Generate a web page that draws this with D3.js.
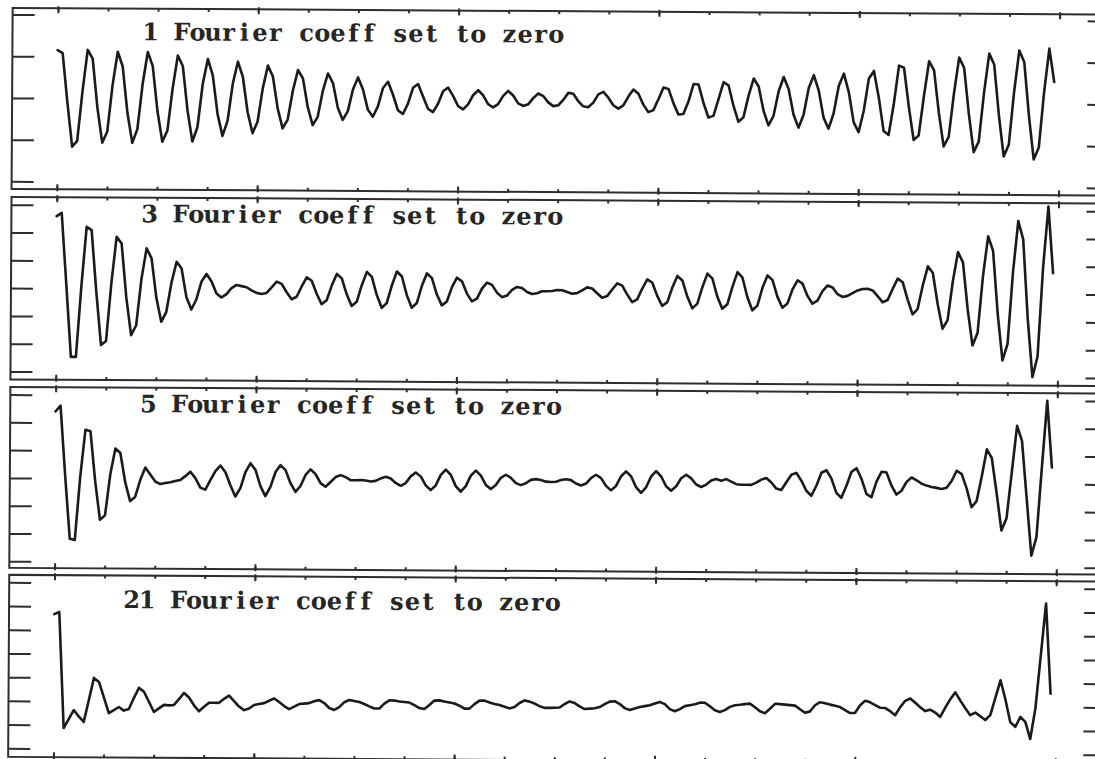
<!DOCTYPE html>
<html>
<head>
<meta charset="utf-8">
<script src="https://cdn.jsdelivr.net/npm/d3@7"></script>
<style>
  html, body { margin: 0; padding: 0; background: #ffffff; }
  svg { display: block; }
</style>
</head>
<body>
<svg id="chart" width="1095" height="759"></svg>
<script>
// Panel titles
const labels = [
  "1 Fourier coeff set to zero",
  "3 Fourier coeff set to zero",
  "5 Fourier coeff set to zero",
  "21 Fourier coeff set to zero"
];

// Unlabelled y tick values of each panel
const yTicks1 = [-2, -1, 0, 1, 2];
const yTicks2 = [-3, -2, -1, 0, 1, 2, 3];
const yTicks3 = [-3, -2, -1, 0, 1, 2, 3];
const yTicks4 = [-2, -1, 0, 1, 2, 3, 4, 5];

// Sample-index ticks along the x axis
const xMinorTicks = d3.range(0, 201, 10);
const xMajorTicks = d3.range(0, 201, 40);

// Residual signal, 200 samples per panel
const series1 = [
  1.15, 1.08, -0.10, -1.16, -1.02, 0.16, 1.16, 0.95, -0.22, -1.06,
  -0.79, 0.32, 1.12, 0.77, -0.34, -1.06, -0.73, 0.35, 1.12, 0.78,
  -0.30, -1.03, -0.76, 0.25, 1.04, 0.79, -0.28, -1.02, -0.67, 0.36,
  0.96, 0.57, -0.36, -0.88, -0.52, 0.37, 0.90, 0.54, -0.31, -0.81,
  -0.53, 0.27, 0.81, 0.55, -0.22, -0.69, -0.48, 0.21, 0.71, 0.51,
  -0.18, -0.61, -0.41, 0.22, 0.63, 0.40, -0.19, -0.48, -0.27, 0.25,
  0.54, 0.25, -0.23, -0.40, -0.15, 0.29, 0.44, 0.13, -0.24, -0.33,
  -0.08, 0.30, 0.39, 0.09, -0.20, -0.28, -0.08, 0.22, 0.31, 0.11,
  -0.13, -0.21, -0.09, 0.13, 0.25, 0.13, -0.08, -0.16, -0.08, 0.12,
  0.24, 0.13, -0.06, -0.12, -0.08, 0.07, 0.18, 0.12, -0.03, -0.12,
  -0.10, 0.03, 0.20, 0.18, 0.00, -0.12, -0.14, -0.03, 0.17, 0.23,
  0.09, -0.09, -0.17, -0.09, 0.12, 0.29, 0.19, -0.07, -0.25, -0.20,
  0.06, 0.34, 0.31, -0.03, -0.30, -0.29, 0.01, 0.43, 0.42, -0.02,
  -0.37, -0.33, 0.07, 0.48, 0.40, -0.09, -0.47, -0.36, 0.16, 0.57,
  0.38, -0.20, -0.55, -0.32, 0.27, 0.61, 0.32, -0.29, -0.60, -0.29,
  0.35, 0.66, 0.29, -0.36, -0.62, -0.25, 0.41, 0.70, 0.26, -0.46,
  -0.70, -0.19, 0.59, 0.77, 0.13, -0.67, -0.76, -0.02, 0.90, 0.85,
  -0.08, -0.88, -0.77, 0.17, 1.01, 0.79, -0.22, -1.03, -0.80, 0.24,
  1.10, 0.86, -0.25, -1.16, -0.91, 0.26, 1.20, 0.94, -0.28, -1.26,
  -0.98, 0.28, 1.28, 1.00, -0.29, -1.33, -1.04, 0.29, 1.33, 0.53
];

const series2 = [
  2.60, 2.72, 0.15, -2.46, -2.46, 0.05, 2.22, 2.10, -0.12, -2.03,
  -1.88, 0.20, 1.87, 1.63, -0.32, -1.67, -1.31, 0.36, 1.46, 1.10,
  -0.32, -1.18, -0.82, 0.23, 0.98, 0.74, -0.29, -0.73, -0.36, 0.28,
  0.55, 0.28, -0.15, -0.29, -0.17, 0.05, 0.16, 0.12, 0.08, -0.03,
  -0.12, -0.16, -0.12, 0.08, 0.29, 0.21, -0.09, -0.34, -0.25, 0.12,
  0.45, 0.33, -0.14, -0.51, -0.37, 0.16, 0.58, 0.42, -0.15, -0.57,
  -0.42, 0.18, 0.66, 0.48, -0.17, -0.63, -0.46, 0.18, 0.68, 0.50,
  -0.17, -0.62, -0.45, 0.17, 0.62, 0.45, -0.14, -0.53, -0.39, 0.13,
  0.47, 0.34, -0.10, -0.38, -0.28, 0.08, 0.30, 0.22, -0.06, -0.22,
  -0.16, 0.04, 0.15, 0.11, -0.03, -0.10, -0.07, 0.00, 0.00, 0.01,
  0.05, 0.04, -0.02, -0.08, -0.06, 0.04, 0.15, 0.11, -0.06, -0.22,
  -0.16, 0.08, 0.30, 0.22, -0.10, -0.37, -0.27, 0.12, 0.45, 0.33,
  -0.14, -0.50, -0.37, 0.16, 0.58, 0.42, -0.16, -0.58, -0.42, 0.18,
  0.67, 0.49, -0.16, -0.59, -0.43, 0.20, 0.73, 0.53, -0.17, -0.64,
  -0.47, 0.17, 0.62, 0.45, -0.15, -0.54, -0.39, 0.12, 0.45, 0.33,
  -0.11, -0.39, -0.28, 0.07, 0.27, 0.20, -0.04, -0.14, -0.10, 0.00,
  0.10, 0.15, 0.16, 0.10, -0.10, -0.32, -0.24, 0.16, 0.53, 0.40,
  -0.22, -0.75, -0.56, 0.29, 0.98, 0.74, -0.38, -1.26, -0.95, 0.45,
  1.50, 1.13, -0.56, -1.86, -1.40, 0.62, 2.07, 1.55, -0.72, -2.39,
  -1.79, 0.79, 2.63, 1.97, -0.89, -2.98, -2.24, 0.95, 3.16, 0.76
];

const series3 = [
  2.40, 2.61, 0.10, -2.18, -2.22, 0.03, 1.75, 1.70, -0.10, -1.49,
  -1.33, 0.13, 1.08, 0.92, -0.13, -0.81, -0.66, -0.05, 0.40, 0.15,
  -0.10, -0.19, -0.15, -0.12, -0.08, -0.04, 0.10, 0.26, 0.03, -0.31,
  -0.38, -0.04, 0.29, 0.49, 0.25, -0.22, -0.62, -0.32, 0.26, 0.58,
  0.34, -0.24, -0.60, -0.27, 0.27, 0.52, 0.34, -0.13, -0.44, -0.23,
  0.17, 0.37, 0.20, -0.12, -0.25, -0.08, 0.10, 0.17, 0.10, -0.01,
  -0.01, 0.00, -0.02, -0.05, -0.03, 0.06, 0.12, 0.06, -0.10, -0.20,
  -0.10, 0.14, 0.28, 0.14, -0.18, -0.35, -0.18, 0.20, 0.39, 0.20,
  -0.20, -0.40, -0.20, 0.18, 0.36, 0.18, -0.15, -0.30, -0.15, 0.11,
  0.22, 0.11, -0.08, -0.15, -0.08, 0.04, 0.07, 0.04, -0.02, -0.03,
  -0.02, 0.04, 0.07, 0.04, -0.08, -0.15, -0.08, 0.12, 0.24, 0.12,
  -0.16, -0.32, -0.16, 0.19, 0.37, 0.19, -0.20, -0.40, -0.20, 0.19,
  0.38, 0.19, -0.16, -0.32, -0.16, 0.13, 0.26, 0.13, -0.09, -0.18,
  -0.09, 0.06, 0.11, 0.05, 0.11, 0.02, -0.07, -0.09, -0.09, -0.09,
  -0.01, 0.10, 0.16, 0.00, -0.22, -0.27, 0.01, 0.28, 0.35, 0.07,
  -0.29, -0.47, -0.11, 0.36, 0.45, 0.15, -0.36, -0.54, -0.10, 0.40,
  0.53, 0.15, -0.39, -0.51, 0.05, 0.41, 0.38, -0.09, -0.41, -0.27,
  0.05, 0.21, 0.11, -0.01, -0.08, -0.13, -0.16, -0.20, -0.15, 0.09,
  0.46, 0.34, -0.17, -0.85, -0.63, 0.25, 1.24, 0.92, -0.34, -1.68,
  -1.24, 0.42, 2.09, 1.55, -0.52, -2.58, -1.91, 0.60, 3.00, 0.60
];

const series4 = [
  3.67, 3.76, -1.13, -0.75, -0.37, -0.64, -0.87, 0.06, 0.99, 0.82,
  0.17, -0.49, -0.36, -0.23, -0.38, -0.31, 0.16, 0.58, 0.42, 0.00,
  -0.43, -0.28, -0.13, -0.15, -0.13, 0.12, 0.38, 0.19, -0.14, -0.39,
  -0.20, -0.03, -0.03, -0.03, 0.14, 0.28, 0.05, -0.18, -0.33, -0.26,
  -0.11, -0.07, -0.03, 0.07, 0.17, 0.02, -0.15, -0.28, -0.17, -0.06,
  -0.04, -0.02, 0.06, 0.11, -0.01, -0.22, -0.30, -0.18, 0.03, 0.12,
  0.08, 0.04, -0.04, -0.14, -0.23, -0.23, -0.02, 0.12, 0.11, 0.07,
  0.05, 0.03, -0.08, -0.20, -0.24, -0.07, 0.12, 0.13, 0.08, 0.04,
  0.00, -0.09, -0.21, -0.21, -0.02, 0.13, 0.13, 0.05, -0.01, -0.05,
  -0.12, -0.19, -0.13, 0.04, 0.15, 0.10, 0.02, -0.09, -0.16, -0.16,
  -0.15, -0.14, 0.01, 0.12, 0.05, -0.09, -0.20, -0.18, -0.16, -0.11,
  0.01, 0.12, 0.14, 0.02, -0.15, -0.23, -0.16, -0.10, -0.06, -0.02,
  0.05, 0.12, 0.03, -0.18, -0.27, -0.18, -0.05, -0.01, 0.03, 0.10,
  0.10, -0.05, -0.22, -0.29, -0.21, -0.07, 0.00, 0.02, 0.05, 0.07,
  -0.08, -0.25, -0.33, -0.14, 0.07, 0.06, 0.04, 0.02, 0.00, -0.15,
  -0.30, -0.24, 0.02, 0.15, 0.11, 0.05, 0.00, -0.05, -0.18, -0.30,
  -0.29, 0.03, 0.22, 0.16, 0.04, -0.07, -0.08, -0.21, -0.38, -0.04,
  0.23, 0.33, 0.15, -0.04, -0.20, -0.14, -0.26, -0.44, -0.05, 0.31,
  0.60, 0.25, -0.07, -0.36, -0.25, -0.40, -0.56, -0.35, 0.39, 1.12,
  0.31, -0.65, -0.84, -0.42, -0.63, -1.35, -0.05, 2.16, 4.37, 0.57
];

// ---- layout ----
const W = 1095, H = 759;
const layout = [
  { top: 8,   bottom: 189,   domain: [-2.18, 2.156],  labelY: 39.5 },
  { top: 197, bottom: 379.5, domain: [-3.284, 3.28],  labelY: 221.5 },
  { top: 387, bottom: 568,   domain: [-3.24, 3.276],  labelY: 411.5 },
  { top: 575, bottom: 757,   domain: [-2.362, 5.314], labelY: 607.5 }
];
const labelEnd = 562;      // right end of every title
const labelPitch = 15.6;   // fixed character cell width of the titles

const panels = [
  { label: labels[0], values: series1, ticks: yTicks1 },
  { label: labels[1], values: series2, ticks: yTicks2 },
  { label: labels[2], values: series3, ticks: yTicks3 },
  { label: labels[3], values: series4, ticks: yTicks4 }
].map((p, i) => Object.assign(p, layout[i]));

const ink = "#1b1b1b";
const frameInk = "#2e2e2e";

const svg = d3.select("#chart");
svg.append("rect").attr("width", W).attr("height", H).attr("fill", "#ffffff");

// the whole sheet sits slightly tilted
const sheet = svg.append("g").attr("transform", "rotate(0.344, 30, 380)");

const x = d3.scaleLinear().domain([0, 199]).range([55.7, 1052.4]);
const xLeft = x(-9.04), xRight = x(210);

panels.forEach(p => {
  const y = d3.scaleLinear().domain(p.domain).range([p.bottom, p.top]);
  const g = sheet.append("g");

  // frame
  g.append("rect")
    .attr("x", xLeft).attr("y", p.top)
    .attr("width", xRight - xLeft).attr("height", p.bottom - p.top)
    .attr("fill", "none").attr("stroke", frameInk).attr("stroke-width", 2);

  const styleAxis = sel => {
    sel.select(".domain").remove();
    sel.selectAll(".tick line").attr("stroke", frameInk).attr("stroke-width", 2);
    sel.selectAll(".tick text").remove();
  };

  // y ticks pointing inward from both sides
  g.append("g").attr("transform", `translate(${xLeft},0)`)
    .call(d3.axisRight(y).tickValues(p.ticks).tickSize(22).tickFormat(""))
    .call(styleAxis);
  g.append("g").attr("transform", `translate(${xRight},0)`)
    .call(d3.axisLeft(y).tickValues(p.ticks).tickSize(22).tickFormat(""))
    .call(styleAxis);

  // x ticks on top and bottom edges
  g.append("g").attr("transform", `translate(0,${p.top})`)
    .call(d3.axisBottom(x).tickValues(xMinorTicks).tickSize(3).tickFormat(""))
    .call(styleAxis);
  g.append("g").attr("transform", `translate(0,${p.top})`)
    .call(d3.axisBottom(x).tickValues(xMajorTicks).tickSize(5).tickFormat(""))
    .call(styleAxis);
  g.append("g").attr("transform", `translate(0,${p.top})`)
    .call(d3.axisTop(x).tickValues(xMajorTicks).tickSize(2).tickFormat(""))
    .call(styleAxis);
  g.append("g").attr("transform", `translate(0,${p.bottom})`)
    .call(d3.axisTop(x).tickValues(xMinorTicks).tickSize(3).tickFormat(""))
    .call(styleAxis);
  g.append("g").attr("transform", `translate(0,${p.bottom})`)
    .call(d3.axisTop(x).tickValues(xMajorTicks).tickSize(5).tickFormat(""))
    .call(styleAxis);
  g.append("g").attr("transform", `translate(0,${p.bottom})`)
    .call(d3.axisBottom(x).tickValues(xMajorTicks).tickSize(2).tickFormat(""))
    .call(styleAxis);

  // signal trace
  const line = d3.line().x((d, i) => x(i)).y(d => y(d));
  g.append("path")
    .datum(p.values)
    .attr("d", line)
    .attr("fill", "none")
    .attr("stroke", ink)
    .attr("stroke-width", 2.6)
    .attr("stroke-linejoin", "round")
    .attr("stroke-linecap", "round");

  // title, typed in fixed-width cells like a plotter font
  const chars = Array.from(p.label);
  const start = labelEnd - labelPitch * chars.length;
  const cellX = chars.map((c, i) => (start + labelPitch * (i + 0.5)).toFixed(1)).join(" ");
  g.append("text")
    .attr("x", cellX).attr("y", p.labelY)
    .attr("text-anchor", "middle")
    .attr("font-family", "'DejaVu Serif', 'Liberation Serif', serif")
    .attr("font-weight", "bold")
    .attr("font-size", 24)
    .attr("fill", "#262626")
    .text(p.label);
});
</script>
</body>
</html>
